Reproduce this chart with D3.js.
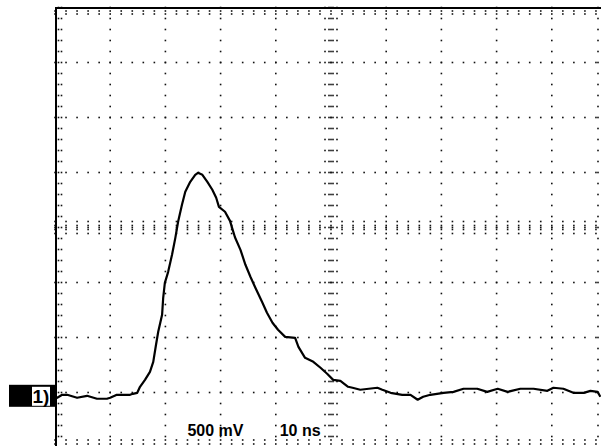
<!DOCTYPE html>
<html>
<head>
<meta charset="utf-8">
<script src="https://cdn.jsdelivr.net/npm/d3@7"></script>
<style>
  body { margin: 0; background: #fff; }
  svg { display: block; }
</style>
</head>
<body>
<svg></svg>
<script>
// Canvas size
var w = 601;
var h = 446;

// Scope settings
var nsPerDiv = 10;
var mVPerDiv = 500;
var divsX = 10;
var divsY = 8;
var groundDiv = -3.06; // channel 1 ground, in divisions from screen centre

// Trace samples (time in ns, level in mV)
var timeNs = [0, 0.4, 1.3, 2.2, 4.0, 5.8, 7.6, 9.4, 10.0, 11.2, 13.6, 14.1, 14.9, 15.4, 16.3,
  17.2, 17.8, 18.3, 18.7, 19.4, 19.6, 19.9, 20.5, 21.2, 21.8, 22.3, 23.0, 23.6, 24.5, 25.4,
  25.9, 26.7, 27.6, 28.5, 29.2, 29.7, 30.8, 31.7, 32.6, 33.6, 34.5, 35.4, 36.3, 37.5, 38.4,
  39.4, 40.4, 41.7, 43.5, 44.1, 45.3, 46.8, 48.1, 49.3, 50.4, 51.7, 53.1, 53.9, 55.3, 58.4,
  59.3, 60.8, 62.9, 64.4, 65.7, 66.7, 68.0, 70.4, 72.2, 74.0, 76.5, 78.3, 80.2, 82.0, 84.3,
  86.7, 89.2, 90.3, 92.1, 93.9, 95.8, 97.0, 98.3, 98.8];
var levelMv = [-27, -18, 9, 9, -18, 0, -27, -27, -18, 9, 9, 18, 27, 82, 145,
  218, 309, 464, 582, 736, 891, 1027, 1127, 1282, 1436, 1582, 1736, 1855, 1945, 2009,
  2027, 2009, 1945, 1873, 1800, 1718, 1673, 1590, 1441, 1327, 1191, 1082, 982, 855, 755,
  664, 600, 536, 527, 445, 345, 309, 255, 200, 145, 136, 82, 73, 55, 73,
  55, 27, 9, 9, -36, -9, 9, 27, 36, 64, 64, 36, 64, 36, 64,
  64, 45, 73, 64, 27, 27, 45, 36, -9];

// Readout labels
var readouts = [
  { text: "500 mV", t: 24.0 },
  { text: "10 ns", t: 40.7 }
];
var channelLabel = "1)";

// Screen area (graticule runs past the right and bottom edges)
var scrLeft = 55, scrRight = 607, scrTop = 7.5, scrBottom = 447.5;

// Graticule scales in divisions
var gx = d3.scaleLinear().domain([0, divsX]).range([scrLeft, scrRight]);
var gy = d3.scaleLinear().domain([0, divsY]).range([scrTop, scrBottom]);

// Data scales
var xScale = d3.scaleLinear()
    .domain([0, divsX * nsPerDiv])
    .range([scrLeft, scrRight]);
var yScale = d3.scaleLinear()
    .domain([(-divsY / 2 - groundDiv) * mVPerDiv, (divsY / 2 - groundDiv) * mVPerDiv])
    .range([scrBottom, scrTop]);

var svg = d3.select("svg")
    .attr("width", w)
    .attr("height", h);

var grid = svg.append("g").attr("fill", "#111");
var dot = 1.6;

function addDot(x, y) {
    grid.append("rect")
        .attr("x", x - dot / 2)
        .attr("y", y - dot / 2)
        .attr("width", dot)
        .attr("height", dot);
}

var minorX = d3.range(0, divsX * 5 + 1).map(function (k) { return k / 5; });
var minorY = d3.range(0, divsY * 5 + 1).map(function (k) { return k / 5; });

// Dotted major lines
d3.range(1, divsX).forEach(function (i) {
    minorY.forEach(function (m) { addDot(gx(i), gy(m)); });
});
d3.range(1, divsY).forEach(function (j) {
    minorX.forEach(function (m) { addDot(gx(m), gy(j)); });
});

// Minor ticks on the border
minorX.forEach(function (m) {
    addDot(gx(m), scrTop + 3.5);
    addDot(gx(m), scrTop + 6.5);
    addDot(gx(m), scrBottom - 3.5);
    addDot(gx(m), scrBottom - 7.5);
});
minorY.forEach(function (m) {
    addDot(scrLeft + 3.5, gy(m));
    addDot(scrLeft + 6.5, gy(m));
    addDot(scrRight - 9, gy(m));
    addDot(scrRight - 5, gy(m));
});

// Centre crosshair ticks
var cx = gx(divsX / 2), cy = gy(divsY / 2);
minorX.forEach(function (m) {
    [-6, -2, 2, 6].forEach(function (o) { addDot(gx(m), cy + o); });
});
minorY.forEach(function (m) {
    [-6, -2, 2, 6].forEach(function (o) { addDot(cx + o, gy(m)); });
});

// Border
svg.append("line")
    .attr("x1", scrLeft).attr("x2", w)
    .attr("y1", scrTop + 0.5).attr("y2", scrTop + 0.5)
    .attr("stroke", "#000").attr("stroke-width", 2);
svg.append("line")
    .attr("x1", scrLeft + 1).attr("x2", scrLeft + 1)
    .attr("y1", scrTop - 0.5).attr("y2", h)
    .attr("stroke", "#000").attr("stroke-width", 2);

// Trace
var points = timeNs.map(function (t, i) { return { t: t, v: levelMv[i] }; });
var line = d3.line()
    .x(function (d) { return xScale(d.t); })
    .y(function (d) { return yScale(d.v); });

svg.append("path")
    .datum(points)
    .attr("fill", "none")
    .attr("stroke", "#000")
    .attr("stroke-width", 2.2)
    .attr("stroke-linejoin", "round")
    .attr("d", line);

// Ground marker
var gy0 = yScale(0);
svg.append("rect")
    .attr("x", 9).attr("y", gy0 - 11)
    .attr("width", scrLeft - 9).attr("height", 22)
    .attr("fill", "#000");
svg.append("rect")
    .attr("x", 32).attr("y", gy0 - 9)
    .attr("width", 18).attr("height", 19)
    .attr("fill", "#fff");
svg.append("text")
    .attr("x", 32.5)
    .attr("y", gy0 + 7.5)
    .attr("font-family", "Liberation Sans, Arial, sans-serif")
    .attr("font-weight", "bold")
    .attr("font-size", "19px")
    .attr("fill", "#000")
    .text(channelLabel);

// Readouts
svg.selectAll(".readout")
    .data(readouts)
    .enter().append("text")
    .attr("class", "readout")
    .attr("x", function (d) { return xScale(d.t); })
    .attr("y", 436)
    .attr("font-family", "Liberation Sans, Arial, sans-serif")
    .attr("font-weight", "bold")
    .attr("font-size", "16px")
    .attr("fill", "#000")
    .text(function (d) { return d.text; });
</script>
</body>
</html>
